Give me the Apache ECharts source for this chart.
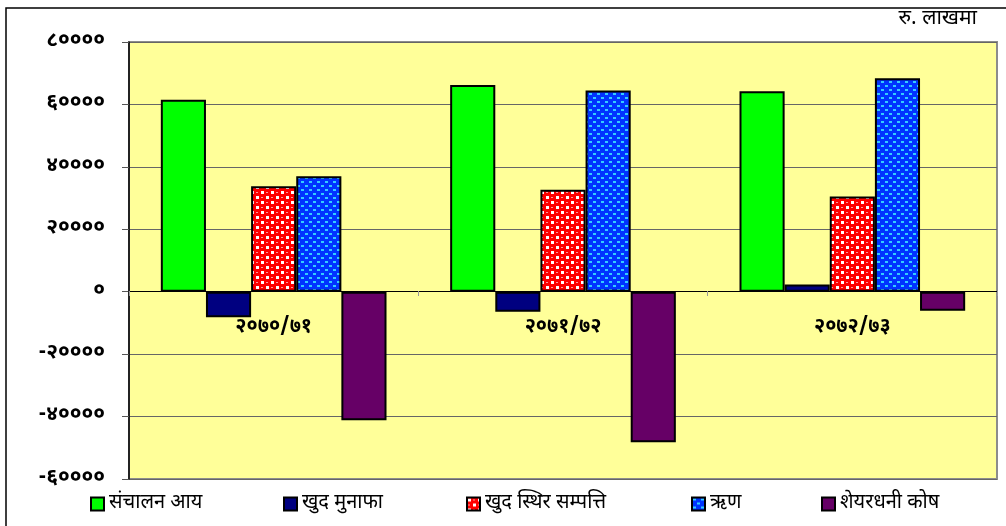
<!DOCTYPE html>
<html>
<head>
<meta charset="utf-8">
<script src="https://cdn.jsdelivr.net/npm/echarts@6/dist/echarts.min.js"></script>
<style>
  html, body { margin: 0; padding: 0; background: #fff; }
  #chart { width: 1006px; height: 526px; }
</style>
</head>
<body>
<div id="chart"></div>
<script>
  // data (रु. लाखमा)
  var years = ['२०७०/७१', '२०७१/७२', '२०७२/७३']
  var seriesNames = ['संचालन आय', 'खुद मुनाफा', 'खुद स्थिर सम्पत्ति', 'ऋण', 'शेयरधनी कोष']
  var operatingIncome = [61500, 66200, 64200]
  var netProfit = [-8200, -6400, 2300]
  var netFixedAssets = [33800, 32700, 30500]
  var loans = [37000, 64500, 68400]
  var shareholderFund = [-41200, -48200, -6100]
  var yTicks = [-60000, -40000, -20000, 0, 20000, 40000, 60000, 80000]
  var devDigits = ['०', '१', '२', '३', '४', '५', '६', '७', '८', '९']

  function toDev (n) {
    return String(n).replace(/[0-9]/g, function (d) { return devDigits[+d] })
  }

  // red checker pattern
  function redPattern () {
    var c = document.createElement('canvas')
    c.width = 10; c.height = 10
    var ctx = c.getContext('2d')
    ctx.fillStyle = '#ff0000'
    ctx.fillRect(0, 0, 10, 10)
    ctx.fillStyle = '#ffffff'
    ctx.fillRect(1, 1, 3, 3)
    ctx.fillRect(6, 6, 3, 3)
    ctx.fillStyle = '#ff9999'
    ctx.fillRect(6, 2, 2, 1)
    ctx.fillRect(1, 7, 2, 1)
    return c
  }
  // blue dotted pattern
  function bluePattern () {
    var c = document.createElement('canvas')
    c.width = 8; c.height = 8
    var ctx = c.getContext('2d')
    ctx.fillStyle = '#0033ff'
    ctx.fillRect(0, 0, 8, 8)
    ctx.fillStyle = '#33ccff'
    ctx.fillRect(1, 1, 3, 2)
    ctx.fillRect(5, 5, 3, 2)
    return c
  }

  var colors = [
    '#00ff00',
    '#000080',
    {image: redPattern(), repeat: 'repeat'},
    {image: bluePattern(), repeat: 'repeat'},
    '#660066'
  ]
  var values = [operatingIncome, netProfit, netFixedAssets, loans, shareholderFund]
  var legendLeft = [85, 278, 461, 686, 816]

  var devFont = '"Noto Sans Devanagari", "Lohit Devanagari", "FreeSerif", "Noto Serif", serif'

  var chart = echarts.init(document.getElementById('chart'))
  chart.setOption({
    animation: false,
    backgroundColor: '#ffffff',
    graphic: [
      {
        type: 'rect',
        shape: {x: 6, y: 8, width: 1100, height: 600},
        style: {fill: 'none', stroke: '#000', lineWidth: 1.5},
        z: 100
      },
      {
        type: 'text',
        right: 29,
        top: 10,
        style: {text: 'रु. लाखमा', font: '21px ' + devFont, fill: '#000'}
      }
    ],
    legend: seriesNames.map(function (name, i) {
      return {
        data: [name],
        left: legendLeft[i],
        top: 489,
        icon: 'rect',
        itemWidth: 13,
        itemHeight: 13,
        itemGap: 6,
        textStyle: {fontSize: 20, fontFamily: devFont, color: '#000'}
      }
    }),
    grid: {
      left: 129,
      top: 42,
      width: 868,
      height: 437,
      show: true,
      backgroundColor: '#ffff99',
      borderColor: '#8c8c8c',
      borderWidth: 2
    },
    xAxis: {
      type: 'category',
      data: years,
      // sit the axis (line, ticks and labels) on the zero line
      offset: -188,
      axisLine: {onZero: false, lineStyle: {color: '#000', width: 1}},
      axisTick: {show: true, length: 5, inside: false, lineStyle: {color: '#999'}},
      axisLabel: {
        margin: 27,
        fontSize: 20,
        fontWeight: 'bold',
        fontFamily: devFont,
        color: '#000'
      },
      z: 10
    },
    yAxis: {
      type: 'value',
      min: yTicks[0],
      max: yTicks[yTicks.length - 1],
      interval: yTicks[1] - yTicks[0],
      axisLine: {show: true, lineStyle: {color: '#000', width: 1.5}},
      axisTick: {show: true, length: 7, lineStyle: {color: '#555'}},
      axisLabel: {
        margin: 24,
        fontSize: 21,
        fontWeight: 'bold',
        fontFamily: devFont,
        color: '#000',
        formatter: function (v) { return v < 0 ? '-' + toDev(-v) : toDev(v) }
      },
      splitLine: {show: true, lineStyle: {color: '#666', width: 1}}
    },
    series: seriesNames.map(function (name, i) {
      return {
        name: name,
        type: 'bar',
        data: values[i],
        barGap: '0%',
        barCategoryGap: '22%',
        itemStyle: {color: colors[i], borderColor: '#000', borderWidth: 2}
      }
    })
  })
</script>
</body>
</html>
